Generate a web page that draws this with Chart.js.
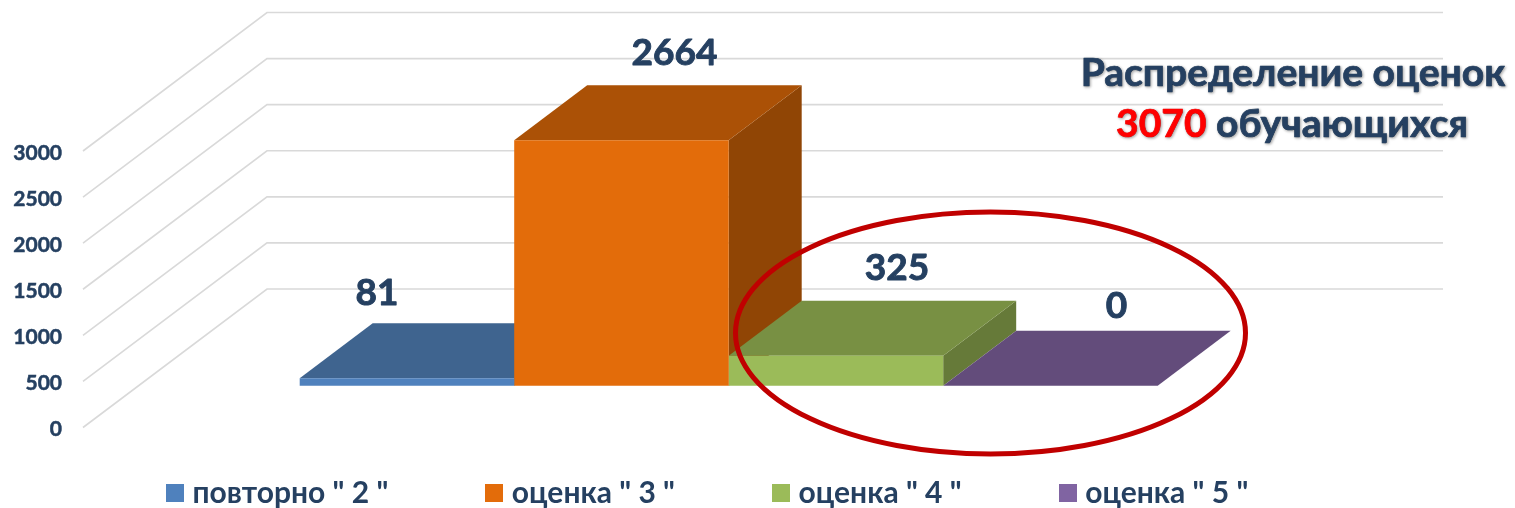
<!DOCTYPE html>
<html lang="ru">
<head>
<meta charset="utf-8">
<title>Распределение оценок</title>
<script src="https://cdn.jsdelivr.net/npm/chart.js@4/dist/chart.umd.min.js"></script>
<style>html,body{margin:0;padding:0;background:#fff}canvas{display:block}</style>
</head>
<body>
<canvas id="c" width="1515" height="508"></canvas>
<script>
const categories = ['Оценки'];
const seriesNames = ['повторно " 2 "', 'оценка " 3 "', 'оценка " 4 "', 'оценка " 5 "'];
const seriesValues = [81, 2664, 325, 0];
const yMax = 3000;
const yStep = 500;
const titleLine1 = 'Распределение оценок';
const titleCount = '3070';
const titleLine2 = ' обучающихся';

const frontColors = ['#4F81BD', '#E36C0A', '#9BBB59', '#8064A2'];
const topColors   = ['#3F648F', '#AB5106', '#789043', '#634C7B'];
const sideColors  = ['#35547A', '#904505', '#667A39', '#533F68'];
const labelNudge  = [[-30, -73], [53, -75], [61, -76], [66, -68]];
const INK = '#254061';
const FONT = 'Lato, "Open Sans"';
const WALL = {w: 1176, dx: 184, dy: -138.5};
const BAR_SHIFT = {x: -70.3, y: -41.8};
const BAR_DEPTH = {x: 73, y: -55};

function swatch(color) {
  const s = document.createElement('canvas');
  s.width = 18; s.height = 18;
  const g = s.getContext('2d');
  g.fillStyle = color; g.fillRect(0, 0, 18, 18);
  return s;
}
function poly(ctx, pts, fill) {
  ctx.beginPath();
  pts.forEach((p, i) => i ? ctx.lineTo(p[0], p[1]) : ctx.moveTo(p[0], p[1]));
  ctx.closePath();
  ctx.fillStyle = fill;
  ctx.fill();
}
function heavyText(ctx, text, x, y, color, stroke) {
  ctx.fillStyle = color;
  ctx.strokeStyle = color;
  ctx.lineWidth = stroke;
  ctx.lineJoin = 'round';
  ctx.strokeText(text, x, y);
  ctx.fillText(text, x, y);
}

const scene3d = {
  id: 'scene3d',
  afterLayout(chart) {
    const l = chart.legend, p = l.options.labels.padding;
    l.left = 172.5 - p; l.right = 1515;
    l.top = 478 - p; l.bottom = 508;
    const y = chart.scales.y;
    if (!y.__shifted) {
      const draw = y.drawLabels;
      y.drawLabels = function (area) {
        this.ctx.save();
        this.ctx.translate(0, 2);
        draw.call(this, area);
        this.ctx.restore();
      };
      y.__shifted = true;
    }
  },
  beforeDatasetsDraw(chart) {
    const {ctx, chartArea: a, scales: {y}} = chart;
    ctx.save();
    ctx.strokeStyle = '#D9D9D9';
    ctx.lineWidth = 1.6;
    y.ticks.forEach(t => {
      const py = y.getPixelForValue(t.value);
      ctx.beginPath();
      ctx.moveTo(a.left, py);
      ctx.lineTo(a.left + WALL.dx, py + WALL.dy);
      ctx.lineTo(a.left + WALL.dx + WALL.w, py + WALL.dy);
      ctx.stroke();
    });
    ctx.translate(BAR_SHIFT.x, BAR_SHIFT.y);
    seriesValues.forEach((v, i) => {
      const b = chart.getDatasetMeta(i).data[0];
      const x0 = b.x - b.width / 2, x1 = b.x + b.width / 2, top = b.y, base = b.base;
      const d = BAR_DEPTH;
      poly(ctx, [[x1, top], [x1 + d.x, top + d.y], [x1 + d.x, base + d.y], [x1, base]], sideColors[i]);
      poly(ctx, [[x0, top], [x1, top], [x1 + d.x, top + d.y], [x0 + d.x, top + d.y]], topColors[i]);
    });
  },
  afterDatasetsDraw(chart) {
    const {ctx} = chart;
    ctx.restore();
    ctx.save();
    ctx.strokeStyle = '#C00000';
    ctx.lineWidth = 5;
    ctx.beginPath();
    ctx.ellipse(990.5, 333, 255, 121, 0, 0, Math.PI * 2);
    ctx.stroke();

    ctx.font = 'bold 37px ' + FONT;
    ctx.textAlign = 'center';
    ctx.textBaseline = 'alphabetic';
    seriesValues.forEach((v, i) => {
      const b = chart.getDatasetMeta(i).data[0];
      heavyText(ctx, String(v), b.x + BAR_SHIFT.x + labelNudge[i][0], b.y + BAR_SHIFT.y + labelNudge[i][1], INK, 0.9);
    });

    ctx.font = 'bold 39px ' + FONT;
    ctx.shadowColor = 'rgba(0,0,0,0.35)';
    ctx.shadowBlur = 3;
    ctx.shadowOffsetX = 1;
    ctx.shadowOffsetY = 1;
    heavyText(ctx, titleLine1, 1293, 86, INK, 0.7);
    const w1 = ctx.measureText(titleCount).width, w2 = ctx.measureText(titleLine2).width;
    const sx = 1292 - (w1 + w2) / 2;
    ctx.textAlign = 'left';
    heavyText(ctx, titleCount, sx, 137, '#FF0000', 0.7);
    heavyText(ctx, titleLine2, sx + w1, 137, INK, 0.7);
    ctx.restore();
  }
};

new Chart(document.getElementById('c'), {
  type: 'bar',
  data: {
    labels: categories,
    datasets: seriesNames.map((name, i) => ({
      label: name,
      data: [seriesValues[i]],
      backgroundColor: frontColors[i],
      barPercentage: 1,
      categoryPercentage: 858 / 1432,
      clip: false
    }))
  },
  options: {
    responsive: false,
    animation: false,
    layout: {padding: {top: 151, bottom: 50.5, left: 0, right: 0}},
    scales: {
      x: {display: false},
      y: {
        min: 0, max: yMax,
        afterFit(s) { s.width = 83; },
        border: {display: false},
        grid: {display: false, drawTicks: false},
        ticks: {
          stepSize: yStep, padding: 21, color: INK,
          textStrokeColor: INK, textStrokeWidth: 0.5,
          font: {family: FONT, size: 21, weight: 'bold'},
          callback: v => String(v)
        }
      }
    },
    plugins: {
      tooltip: {enabled: false},
      title: {display: false},
      legend: {
        position: 'bottom',
        align: 'start',
        maxHeight: 30,
        labels: {
          usePointStyle: true,
          boxWidth: 5,
          boxHeight: 5,
          padding: 103.5,
          color: INK,
          font: {family: FONT, size: 30, weight: 'bold'},
          generateLabels(chart) {
            return Chart.defaults.plugins.legend.labels.generateLabels(chart).map((it, i) => {
              it.pointStyle = swatch(frontColors[i]);
              return it;
            });
          }
        }
      }
    }
  },
  plugins: [scene3d]
});
</script>
</body>
</html>
